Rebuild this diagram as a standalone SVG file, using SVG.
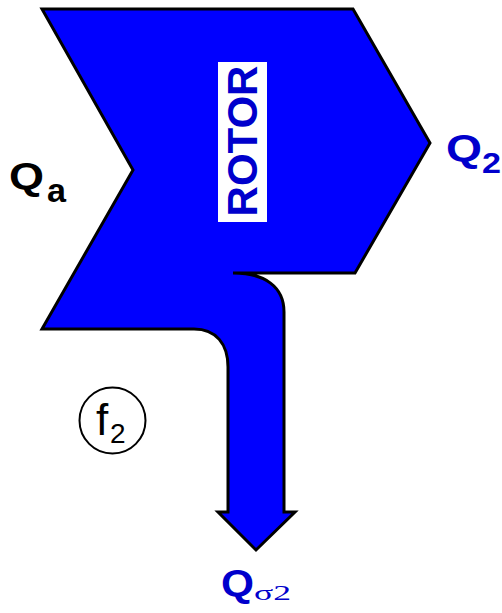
<svg xmlns="http://www.w3.org/2000/svg" width="502" height="613" viewBox="0 0 502 613">
<style>
.flow{fill:#0000ff;stroke:#000;stroke-width:3;stroke-linejoin:miter}
.lbl{font-family:"Liberation Sans",Arial,sans-serif;font-weight:bold}
.blue{fill:#0000cc}
</style>
<rect width="502" height="613" fill="#fff"/>
<g id="rotor">
<path class="flow" d="M42,9 L353,9 L430,143 L355,273 L233,273 C265,273 284,287 284,312 L284,512 L295,512 L256,550 L218,512 L228,512 L228,367 C228,344 216,329 194,329 L42,329 L133,170 Z"/>
<rect x="218" y="62" width="49" height="160" fill="#fff"/>
<text class="lbl" fill="#0000cc" font-size="42" text-anchor="middle" transform="translate(257,141) rotate(-90)">ROTOR</text>
</g>
<g id="Qa">
<text class="lbl" x="9" y="189" font-size="37" textLength="35" lengthAdjust="spacingAndGlyphs" fill="#000">Q</text>
<text class="lbl" x="47" y="202" font-size="34" textLength="19" lengthAdjust="spacingAndGlyphs" fill="#000">a</text>
</g>
<g id="Q2">
<text class="lbl blue" x="446" y="161" font-size="37" textLength="36" lengthAdjust="spacingAndGlyphs">Q</text>
<text class="lbl blue" x="482" y="173" font-size="29" textLength="19" lengthAdjust="spacingAndGlyphs">2</text>
</g>
<g id="Qs2">
<text class="lbl blue" x="221" y="596" font-size="37" textLength="33" lengthAdjust="spacingAndGlyphs">Q</text>
<text x="254" y="600" font-family="Liberation Serif,Times New Roman,serif" font-size="22" textLength="37" lengthAdjust="spacingAndGlyphs" fill="#0000cc">σ2</text>
</g>
<g id="f2">
<circle cx="112.5" cy="420.5" r="33" fill="none" stroke="#000" stroke-width="2"/>
<text x="96" y="435" font-family="Liberation Sans,Arial,sans-serif" font-size="44" fill="#000">f</text>
<text x="110" y="443" font-family="Liberation Sans,Arial,sans-serif" font-size="28" fill="#000">2</text>
</g>
<g id="connectors"></g>
</svg>
